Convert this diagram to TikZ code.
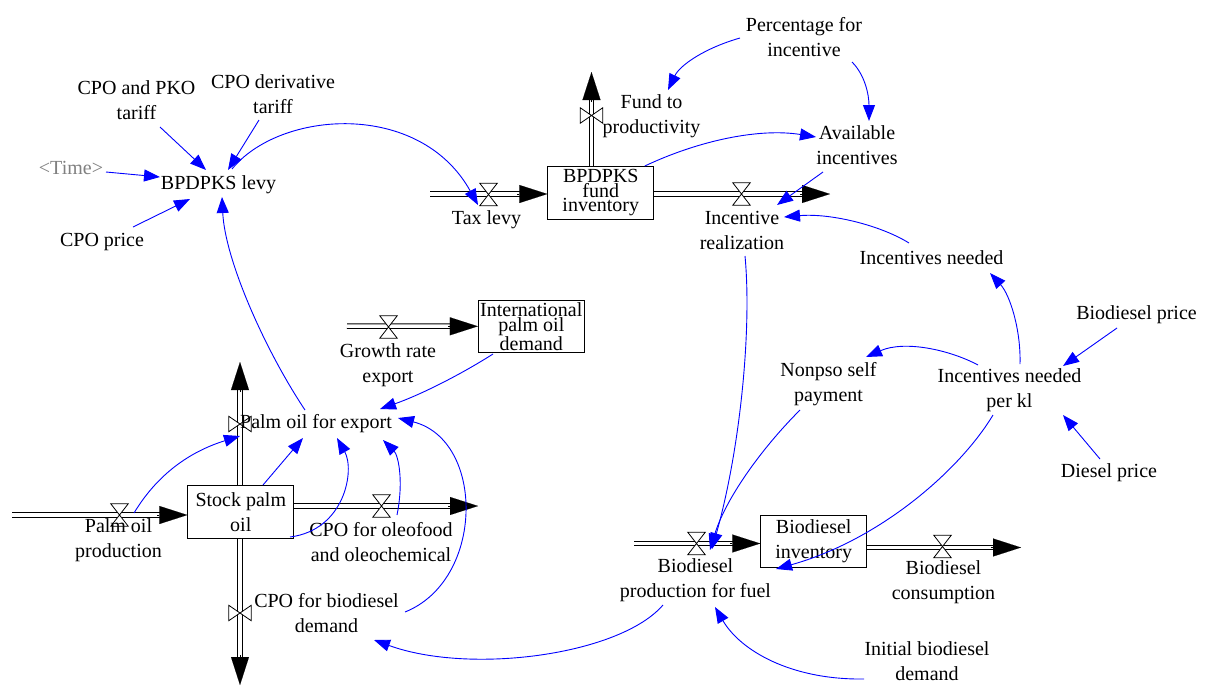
\documentclass[tikz,border=0pt]{standalone}
\usepackage{fontspec}
\setmainfont{Liberation Serif}
\usetikzlibrary{arrows.meta}
\newcommand\drawhv[1]{\draw[line width=0.8pt, fill=white] (#1.north west) -- (#1.north east) -- (#1.south west) -- (#1.south east) -- cycle;}
\newcommand\drawvv[1]{\draw[line width=0.8pt, fill=white] (#1.north west) -- (#1.south west) -- (#1.north east) -- (#1.south east) -- cycle;}
\begin{document}
\begin{tikzpicture}[x=1pt,y=-1pt,
  every node/.style={font=\fontsize{20}{25}\selectfont, inner sep=0pt},
  var/.style={align=center},
  stockbox/.style={draw, line width=0.9pt, fill=white, minimum width=106pt, minimum height=52.5pt, align=center},
  pipe/.style={double, double distance=3.5pt, line width=1pt},
  pipeend/.style={pipe, shorten >=26pt},
  flowtip/.style={line width=0.1pt, -{Triangle[length=28pt,width=18pt]}},
  hvalve/.style={minimum width=17pt, minimum height=22pt},
  vvalvebox/.style={minimum width=22pt, minimum height=15pt},
  link/.style={draw=blue, line width=0.9pt, -{Triangle[length=16pt,width=12pt]}},
]
\useasboundingbox[fill=white] (0,0) rectangle (1205,686);

% stocks
\node[stockbox, font=\fontsize{20}{14.5}\selectfont] (fundinv) at (600.8,193) {BPDPKS\\fund\\inventory};
\node[stockbox, font=\fontsize{20}{13.5}\selectfont] (intl) at (531.3,326.3) {International\\palm oil\\demand};
\node[stockbox] (stock) at (240.8,512) {Stock palm\\oil};
\node[stockbox] (bdinv) at (813.7,541.3) {Biodiesel\\inventory};

% free ends of flows
\coordinate (f1s) at (430,194);
\coordinate (f2e) at (591.5,72);
\coordinate (f3e) at (830,194);
\coordinate (f4s) at (347,326);
\coordinate (f5s) at (12,515);
\coordinate (f6e) at (240,362);
\coordinate (f7e) at (478,506);
\coordinate (f8e) at (240,685);
\coordinate (f9s) at (634,543.5);
\coordinate (f10e) at (1021,547.5);

% pipes
\draw[pipeend] (f1s) -- ([shift={(0,1)}]fundinv.west);
\draw[pipeend] ([shift={(-9.3,0)}]fundinv.north) -- (f2e);
\draw[pipeend] ([shift={(0,1)}]fundinv.east) -- (f3e);
\draw[pipeend] (f4s) -- (intl.west);
\draw[pipeend] (f5s) -- ([shift={(0,3)}]stock.west);
\draw[pipeend] ([shift={(-0.8,0)}]stock.north) -- (f6e);
\draw[pipeend] ([shift={(0,-6)}]stock.east) -- (f7e);
\draw[pipeend] ([shift={(-0.8,0)}]stock.south) -- (f8e);
\draw[pipeend] (f9s) -- ([shift={(0,2.2)}]bdinv.west);
\draw[pipeend] ([shift={(0,6.2)}]bdinv.east) -- (f10e);

% flow arrowheads
\draw[flowtip] ([shift={(-30,1)}]fundinv.west) -- ([shift={(0,1)}]fundinv.west);
\draw[flowtip] ([shift={(0,30)}]f2e) -- (f2e);
\draw[flowtip] ([shift={(-30,0)}]f3e) -- (f3e);
\draw[flowtip] ([shift={(-30,0)}]intl.west) -- (intl.west);
\draw[flowtip] ([shift={(-30,3)}]stock.west) -- ([shift={(0,3)}]stock.west);
\draw[flowtip] ([shift={(0,30)}]f6e) -- (f6e);
\draw[flowtip] ([shift={(-30,0)}]f7e) -- (f7e);
\draw[flowtip] ([shift={(0,-30)}]f8e) -- (f8e);
\draw[flowtip] ([shift={(-30,2.2)}]bdinv.west) -- ([shift={(0,2.2)}]bdinv.west);
\draw[flowtip] ([shift={(-30,0)}]f10e) -- (f10e);

% valves
\node[hvalve] (v1) at (488.5,194.5) {};
\node[vvalvebox] (v2) at (591.5,115.5) {};
\node[hvalve] (v3) at (741.5,194) {};
\node[hvalve] (v4) at (388.5,327) {};
\node[hvalve] (v5) at (119.5,515) {};
\node[vvalvebox] (v6) at (240,424) {};
\node[hvalve] (v7) at (381.5,506) {};
\node[vvalvebox] (v8) at (240,613) {};
\node[hvalve] (v9) at (696.5,543.5) {};
\node[hvalve] (v10) at (942.5,546.5) {};
\drawhv{v1}\drawvv{v2}\drawhv{v3}\drawhv{v4}\drawhv{v5}
\drawvv{v6}\drawhv{v7}\drawvv{v8}\drawhv{v9}\drawhv{v10}

% variables
\node[var] (pct) at (804,37.5) {Percentage for\\incentive};
\node[var] (fund) at (651.5,116.5) {Fund to\\productivity};
\node[var] (avail) at (857,145.5) {Available\\incentives};
\node[var] (tariff1) at (136.5,100.5) {CPO and PKO\\tariff};
\node[var] (tariff2) at (273,94.5) {CPO derivative\\tariff};
\node[var, text=gray] (time) at (71,168) {\textless Time\textgreater};
\node[var] (levy) at (218.5,185) {BPDPKS levy};
\node[var] (cpoprice) at (102,242) {CPO price};
\node[var] (taxlevy) at (486.5,220) {Tax levy};
\node[var] (increal) at (742,230) {Incentive\\realization};
\node[var] (incneed) at (931.5,258) {Incentives needed};
\node[var] (bdprice) at (1136.5,315) {Biodiesel price};
\node[var] (inckl) at (1009.5,390.5) {Incentives needed\\per kl};
\node[var] (nonpso) at (828.5,384.5) {Nonpso self\\payment};
\node[var] (dieselprice) at (1109,473) {Diesel price};
\node[var] (growth) at (388,365) {Growth rate\\export};
\node[var] (export) at (316,424) {Palm oil for export};
\node[var] (pprod) at (118.5,540.5) {Palm oil\\production};
\node[var] (oleo) at (381,542) {CPO for oleofood\\and oleochemical};
\node[var] (cpobio) at (326.5,613) {CPO for biodiesel\\demand};
\node[var] (bdprod) at (695.5,580) {Biodiesel\\production for fuel};
\node[var] (bdcons) at (943.5,582) {Biodiesel\\consumption};
\node[var] (initbd) at (927,661) {Initial biodiesel\\demand};

% causal links
\draw[link] ([shift={(23.5,26.5)}]tariff1.center) -- ([shift={(-12.5,-15)}]levy.center);
\draw[link] ([shift={(-14,25.5)}]tariff2.center) -- ([shift={(9.5,-15)}]levy.center);
\draw[link] ([shift={(35,4)}]time.center) -- ([shift={(-58.5,-8)}]levy.center);
\draw[link] ([shift={(31,-15)}]cpoprice.center) -- ([shift={(-28.5,14)}]levy.center);
\draw[link] ([shift={(-11,-14)}]export.center) .. controls (265,350) and (225,260) .. ([shift={(3.5,12)}]levy.center);
\draw[link] ([shift={(13.5,-16)}]levy.center) .. controls (280,110) and (420,100) .. ([shift={(-10.5,10.5)}]v1.center);
\draw[link] ([shift={(-64,0.5)}]pct.center) .. controls (705,48) and (680,65) .. ([shift={(16.5,-26.5)}]fund.center);
\draw[link] ([shift={(48,24.5)}]pct.center) .. controls (865,75) and (869,95) .. ([shift={(12,-24.5)}]avail.center);
\draw[link] ([shift={(44,-27)}]fundinv.center) .. controls (700,140) and (760,128) .. ([shift={(-41,-8.5)}]avail.center);
\draw[link] ([shift={(-34,26.5)}]avail.center) -- ([shift={(35,-25)}]increal.center);
\draw[link] ([shift={(-22.5,-15)}]incneed.center) .. controls (880,225) and (830,213) .. ([shift={(42,-13)}]increal.center);
\draw[link] ([shift={(3,26)}]increal.center) .. controls (752,330) and (740,450) .. ([shift={(15.5,5.5)}]v9.center);
\draw[link] ([shift={(-28.5,25.5)}]nonpso.center) .. controls (760,450) and (725,500) .. ([shift={(13.5,6.5)}]v9.center);
\draw[link] ([shift={(10.5,-26.5)}]inckl.center) .. controls (1021,330) and (1010,295) .. ([shift={(58.5,15)}]incneed.center);
\draw[link] ([shift={(-31.5,-25.5)}]inckl.center) .. controls (950,350) and (905,340) .. ([shift={(37.5,-27.5)}]nonpso.center);
\draw[link] ([shift={(-19.5,13)}]bdprice.center) -- ([shift={(53.5,-24.5)}]inckl.center);
\draw[link] ([shift={(-9,-14)}]dieselprice.center) -- ([shift={(53.5,24.5)}]inckl.center);
\draw[link] ([shift={(-16.5,24.5)}]inckl.center) .. controls (960,470) and (880,540) .. ([shift={(-37.7,27.7)}]bdinv.center);
\draw[link] ([shift={(-63,18)}]initbd.center) .. controls (790,680) and (740,650) .. ([shift={(19.5,27)}]bdprod.center);
\draw[link] ([shift={(-32.5,25)}]bdprod.center) .. controls (620,655) and (470,675) .. ([shift={(47.5,27)}]cpobio.center);
\draw[link] ([shift={(78.5,-1)}]cpobio.center) .. controls (485,580) and (485,440) .. ([shift={(82,-6)}]export.center);
\draw[link] ([shift={(22.2,-27)}]stock.center) -- ([shift={(-13,14)}]export.center);
\draw[link] ([shift={(14.5,-2)}]v5.center) .. controls (160,470) and (195,450) .. ([shift={(0,12)}]v6.center);
\draw[link] ([shift={(49.2,25)}]stock.center) .. controls (345,530) and (355,470) .. ([shift={(21,14)}]export.center);
\draw[link] ([shift={(15.5,9)}]v7.center) .. controls (404,480) and (398,455) .. ([shift={(67,16)}]export.center);
\draw[link] ([shift={(-38.3,27.7)}]intl.center) .. controls (460,375) and (420,395) .. ([shift={(64,-15)}]export.center);
\end{tikzpicture}
\end{document}
